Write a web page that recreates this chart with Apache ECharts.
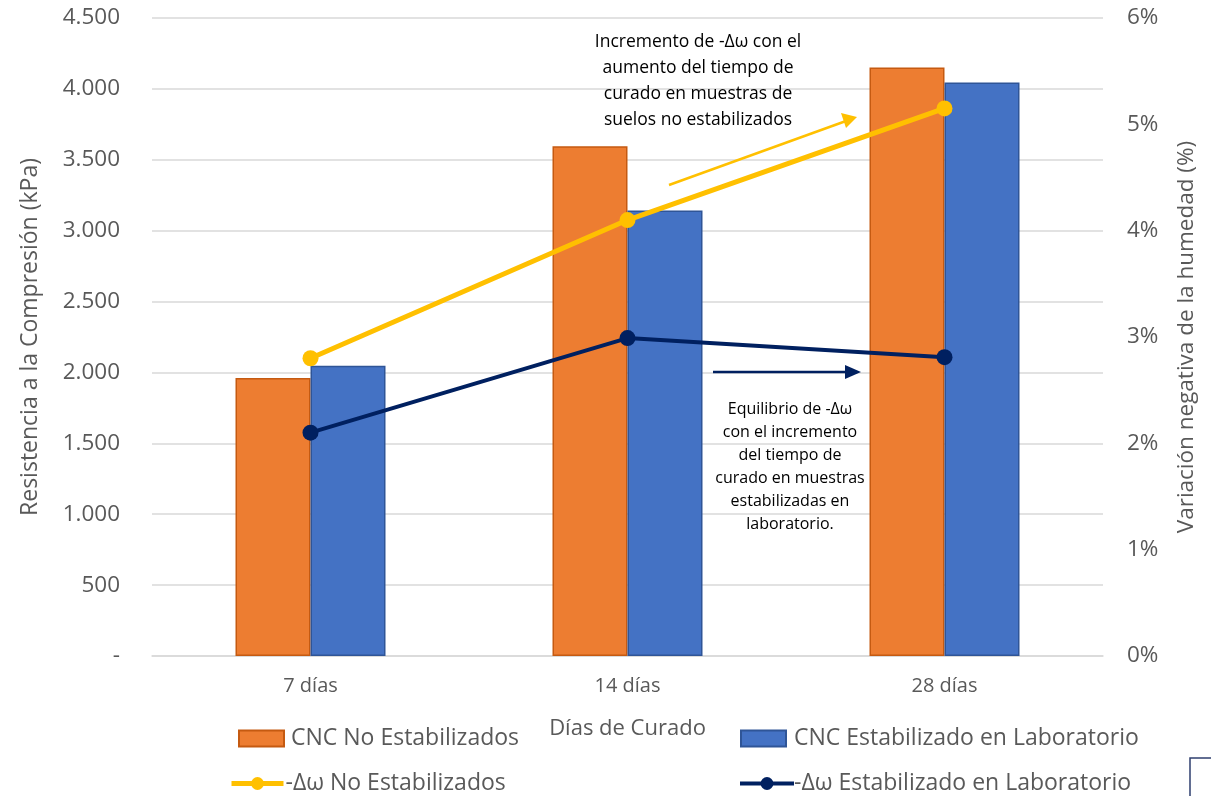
<!DOCTYPE html>
<html>
<head>
<meta charset="utf-8">
<script src="https://cdn.jsdelivr.net/npm/echarts@6/dist/echarts.min.js"></script>
<style>
  html, body { margin: 0; padding: 0; background: #fff; }
  #main { width: 1211px; height: 796px; }
</style>
</head>
<body>
<div id="main"></div>
<script>
// datos
var categorias = ["7 días", "14 días", "28 días"];
var cncNoEstab = [1960, 3595, 4150];
var cncEstabLab = [2048, 3142, 4045];
var dwNoEstab = [2.8, 4.1, 5.15];
var dwEstabLab = [2.1, 2.99, 2.81];

var fuente = "Open Sans";
var gris = "#595959";

var myChart = echarts.init(document.getElementById("main"));

function legenda(nombre, left, top, w, h, icon, pad, linea) {
  var l = {
    data: [{ name: nombre, icon: icon }],
    left: left,
    top: top,
    itemWidth: w,
    itemHeight: h,
    textStyle: { color: gris, fontSize: 23, fontFamily: fuente, padding: [0, 0, 0, pad] },
  };
  if (linea) l.lineStyle = { width: linea };
  return l;
}

var option = {
  animation: false,
  grid: { left: 152, right: 108, top: 18, bottom: 140 },
  legend: [
    legenda("CNC No Estabilizados", 233, 722, 45, 16, "rect", 2),
    legenda("CNC Estabilizado en Laboratorio", 735, 722, 45, 16, "rect", 3),
    legenda("-Δω No Estabilizados", 224, 767, 52, 16, undefined, -3, 5),
    legenda("-Δω Estabilizado en Laboratorio", 733, 767, 54, 16, undefined, -5, 4),
  ],
  xAxis: {
    type: "category",
    data: categorias,
    name: "Días de Curado",
    nameLocation: "middle",
    nameGap: 62,
    nameTextStyle: { color: gris, fontSize: 22, fontFamily: fuente },
    axisTick: { show: false },
    axisLine: { lineStyle: { color: "#d9d9d9", width: 1.5 } },
    axisLabel: { color: gris, fontSize: 20, fontFamily: fuente, margin: 20 },
  },
  yAxis: [
    {
      type: "value",
      min: 0,
      max: 4500,
      interval: 500,
      name: "Resistencia a la Compresión (kPa)",
      nameLocation: "middle",
      nameGap: 110,
      nameTextStyle: { color: gris, fontSize: 23, fontFamily: fuente },
      splitLine: { lineStyle: { color: "#d9d9d9", width: 1.5 } },
      axisLabel: {
        color: gris,
        fontSize: 22.5,
        fontFamily: fuente,
        margin: 32,
        formatter: function (v) {
          if (v === 0) return "-";
          return v >= 1000 ? Math.floor(v / 1000) + "." + String(v % 1000).padStart(3, "0") : String(v);
        },
      },
    },
    {
      type: "value",
      min: 0,
      max: 6,
      interval: 1,
      name: "Variación negativa de la humedad (%)",
      nameLocation: "middle",
      nameGap: 72,
      nameTextStyle: { color: gris, fontSize: 22.5, fontFamily: fuente },
      splitLine: { show: false },
      axisLabel: { color: gris, fontSize: 22.5, fontFamily: fuente, margin: 24, formatter: "{value}%" },
    },
  ],
  series: [
    {
      name: "CNC No Estabilizados",
      type: "bar",
      data: cncNoEstab,
      barWidth: 75,
      barGap: "0%",
      itemStyle: { color: "#ED7D31", borderColor: "#C55A11", borderWidth: 1.5 },
    },
    {
      name: "CNC Estabilizado en Laboratorio",
      type: "bar",
      data: cncEstabLab,
      barWidth: 75,
      itemStyle: { color: "#4472C4", borderColor: "#2F5597", borderWidth: 1.5 },
    },
    {
      name: "-Δω No Estabilizados",
      type: "line",
      yAxisIndex: 1,
      data: dwNoEstab,
      symbol: "circle",
      symbolSize: 16,
      lineStyle: { color: "#FFC000", width: 5 },
      itemStyle: { color: "#FFC000" },
      z: 5,
    },
    {
      name: "-Δω Estabilizado en Laboratorio",
      type: "line",
      yAxisIndex: 1,
      data: dwEstabLab,
      symbol: "circle",
      symbolSize: 16,
      lineStyle: { color: "#002060", width: 4 },
      itemStyle: { color: "#002060" },
      z: 5,
    },
  ],
  graphic: [
    // flecha amarilla
    { type: "line", shape: { x1: 669, y1: 185, x2: 846, y2: 121 }, style: { stroke: "#FFC000", lineWidth: 2.5 }, z: 10 },
    { type: "polygon", shape: { points: [[857, 117], [841, 113], [846, 128]] }, style: { fill: "#FFC000" }, z: 10 },
    // flecha azul
    { type: "line", shape: { x1: 713, y1: 372, x2: 846, y2: 372 }, style: { stroke: "#002060", lineWidth: 2.5 }, z: 10 },
    { type: "polygon", shape: { points: [[861, 372], [845, 365], [845, 379]] }, style: { fill: "#002060" }, z: 10 },
    {
      type: "text",
      x: 698,
      y: 29,
      z: 10,
      style: {
        text: "Incremento de -Δω con el\naumento del tiempo de\ncurado en muestras de\nsuelos no estabilizados",
        fill: "#000",
        font: "17.5px 'Open Sans'",
        lineHeight: 26,
        align: "center",
      },
    },
    {
      type: "text",
      x: 790,
      y: 398,
      z: 10,
      style: {
        text: "Equilibrio de -Δω\ncon el incremento\ndel tiempo de\ncurado en muestras\nestabilizadas en\nlaboratorio.",
        fill: "#000",
        font: "16px 'Open Sans'",
        lineHeight: 23,
        align: "center",
      },
    },
    // recuadro recortado en la esquina
    { type: "rect", shape: { x: 1190, y: 758, width: 40, height: 60 }, style: { fill: "none", stroke: "#2F3F6F", lineWidth: 1.5 }, z: 10 },
  ],
};

myChart.setOption(option);
</script>
</body>
</html>
